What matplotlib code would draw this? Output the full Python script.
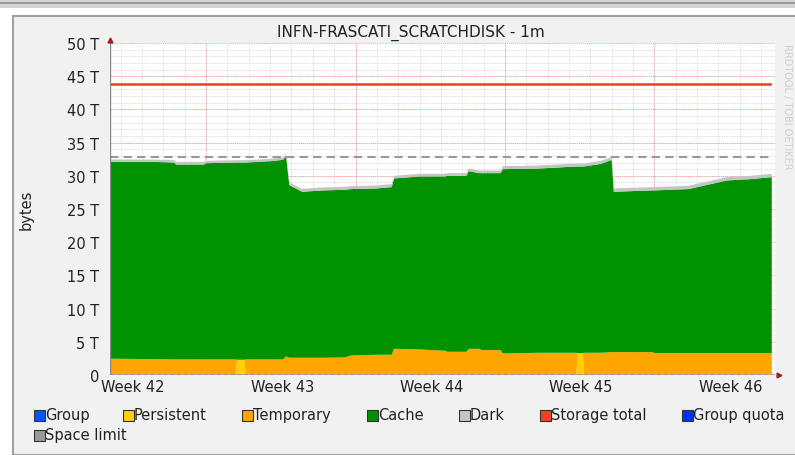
import matplotlib
matplotlib.use('Agg')
import matplotlib.pyplot as plt
from matplotlib.patches import Rectangle
import numpy as np

plt.rcParams['font.family'] = 'DejaVu Sans'

# time in days since start of the 1 month window
days = [0, 2, 3.0, 3.1, 4.4, 4.5, 5.9, 5.95, 6.3, 6.35, 7.5, 8.1, 8.25, 8.4, 9.0,
        10, 11, 11.3, 12.5, 13.2, 13.3, 14.5, 15.7, 15.8, 16.7, 16.8, 17.3, 17.4,
        18.3, 18.4, 20.1, 21.85, 21.9, 22.15, 22.2, 23.0, 23.5, 23.6, 25.4, 25.5,
        27.1, 28.9, 30.0, 31.0]
# values in T(bytes)
group = [0.0] * len(days)
persistent = [0.05, 0.05, 0.05, 0.05, 0.05, 0.05, 0.05, 2.3, 2.3, 0.05, 0.05, 0.05, 0.05, 0.05, 0.05,
              0.05, 0.05, 0.05, 0.05, 0.05, 0.05, 0.05, 0.05, 0.05, 0.05, 0.05, 0.05, 0.05,
              0.05, 0.05, 0.05, 0.05, 3.3, 3.3, 0.05, 0.05, 0.05, 0.05, 0.05, 0.05,
              0.05, 0.05, 0.05, 0.05]
temporary = [2.4, 2.35, 2.3, 2.3, 2.3, 2.3, 2.3, 0.0, 0.0, 2.3, 2.3, 2.3, 2.75, 2.55, 2.55,
             2.55, 2.6, 2.9, 3.0, 3.0, 3.9, 3.8, 3.6, 3.45, 3.45, 3.9, 3.9, 3.7,
             3.7, 3.2, 3.3, 3.3, 0.0, 0.0, 3.3, 3.3, 3.4, 3.4, 3.4, 3.25,
             3.25, 3.25, 3.25, 3.25]
cache = [29.65, 29.7, 29.65, 29.35, 29.35, 29.55, 29.65, 29.7, 29.7, 29.65, 29.85, 30.05, 30.1, 26.0, 25.0,
         25.2, 25.25, 25.05, 25.05, 25.25, 25.65, 26.05, 26.25, 26.5, 26.5, 26.75, 26.45, 26.65,
         26.65, 27.75, 27.75, 28.05, 28.1, 28.1, 28.05, 28.45, 28.95, 24.15, 24.35, 24.5,
         24.7, 26.0, 26.2, 26.5]
dark = [0.35, 0.35, 0.35, 0.4, 0.4, 0.35, 0.35, 0.35, 0.35, 0.35, 0.35, 0.35, 0.35, 0.4, 0.45,
        0.45, 0.45, 0.45, 0.45, 0.45, 0.4, 0.4, 0.4, 0.4, 0.4, 0.4, 0.4, 0.4,
        0.4, 0.45, 0.45, 0.45, 0.45, 0.45, 0.45, 0.45, 0.45, 0.5, 0.5, 0.5,
        0.5, 0.5, 0.5, 0.5]
storage_total = 43.8
space_limit = 32.8

week_pos = [1.07, 8.07, 15.07, 22.07, 29.07]
week_labels = ['Week 42', 'Week 43', 'Week 44', 'Week 45', 'Week 46']
y_ticks = [0, 5, 10, 15, 20, 25, 30, 35, 40, 45, 50]
y_labels = ['0'] + ['%d T' % v for v in y_ticks[1:]]

W, H = 795, 456
fig = plt.figure(figsize=(W / 100, H / 100), dpi=100, facecolor='white')

# window frame / canvas background
fig.patches.append(Rectangle((13 / W, 0), 1, 1 - 17 / H, transform=fig.transFigure,
                             facecolor='#f1f1f1', edgecolor='#a0a0a0', lw=1.5, zorder=-5))
fig.patches.append(Rectangle((0, 1 - 9 / H), 1, 9 / H, transform=fig.transFigure,
                             facecolor='#d4d4d4', edgecolor='none', zorder=-4))
fig.patches.append(Rectangle((0, 1 - 5 / H), 1, 2 / H, transform=fig.transFigure,
                             facecolor='#9a9a9a', edgecolor='none', zorder=-3))

ax = fig.add_axes([110 / W, 1 - 376 / H, 665 / W, 332 / H])
ax.set_facecolor('white')
ax.set_xlim(0, 31.15)
ax.set_ylim(0, 50)

# grid (rrdtool style)
for d in np.arange(0.5, 31, 1):
    ax.axvline(d, color='#d4d4d4', lw=0.6, ls=(0, (1, 1)), zorder=0)
for v in range(1, 50):
    ax.axhline(v, color='#d4d4d4', lw=0.6, ls=(0, (1, 1)), zorder=0)
for d in [4.5, 11.5, 18.5, 25.5]:
    ax.axvline(d, color='#f3a0a0', lw=0.7, ls=(0, (1, 1)), zorder=0)
for v in range(5, 51, 5):
    ax.axhline(v, color='#f3a0a0', lw=0.7, ls=(0, (1, 1)), zorder=0)

ax.stackplot(days, group, persistent, temporary, cache, dark,
             colors=['#0055ff', '#ffd000', '#ffa500', '#009200', '#c4c4c4'],
             lw=0, zorder=2)
ax.plot([0, 30.9], [storage_total] * 2, color='#f04020', lw=1.8, zorder=3)
ax.plot([0, 30.9], [space_limit] * 2, color='#999999', lw=1.5, ls=(0, (4, 2.5)), zorder=3)

for s in ax.spines.values():
    s.set_visible(False)
ax.axvline(0, color='#888888', lw=1, zorder=4)
ax.axhline(0, color='#8a8aa8', lw=1.2, ls=(0, (3, 1)), zorder=4)
ax.plot([0], [50.4], marker='^', color='#a02020', ms=3.5, clip_on=False, zorder=5)
ax.plot([31.35], [0], marker='>', color='#a02020', ms=3.5, clip_on=False, zorder=5)

ax.set_yticks(y_ticks)
ax.set_yticklabels(y_labels, fontsize=10.5, color='#222222')
ax.set_xticks(week_pos)
ax.set_xticklabels(week_labels, fontsize=10.5, color='#222222')
ax.tick_params(length=0, pad=3)
ax.tick_params(axis='y', pad=8)
ax.set_ylabel('bytes', fontsize=10.5, color='#222222')
ax.yaxis.set_label_coords(-0.115, 0.5)

fig.text(411 / W, 1 - 33 / H, 'INFN-FRASCATI_SCRATCHDISK - 1m', ha='center', va='center',
         fontsize=11, color='#222222')
fig.text(787 / W, 1 - 44 / H, 'RRDTOOL / TOBI OETIKER', rotation=270, ha='center', va='top',
         fontsize=7, color='#cfcfcf')

# legend
legend = [('Group', 34, 416, '#0055ff'), ('Persistent', 123, 416, '#ffd000'),
          ('Temporary', 242, 416, '#ffa500'), ('Cache', 367, 416, '#009200'),
          ('Dark', 459, 416, '#c4c4c4'), ('Storage total', 540, 416, '#f04020'),
          ('Group quota', 682, 416, '#0033ff'), ('Space limit', 34, 436, '#999999')]
for name, px, py, col in legend:
    fig.patches.append(Rectangle((px / W, 1 - (py + 5.5) / H), 11 / W, 11 / H,
                                 transform=fig.transFigure, facecolor=col,
                                 edgecolor='#333333', lw=0.8))
    fig.text((px + 11) / W, 1 - py / H, name, ha='left', va='center',
             fontsize=10.5, color='#222222')

plt.savefig('out.png', dpi=100, facecolor=fig.get_facecolor())
